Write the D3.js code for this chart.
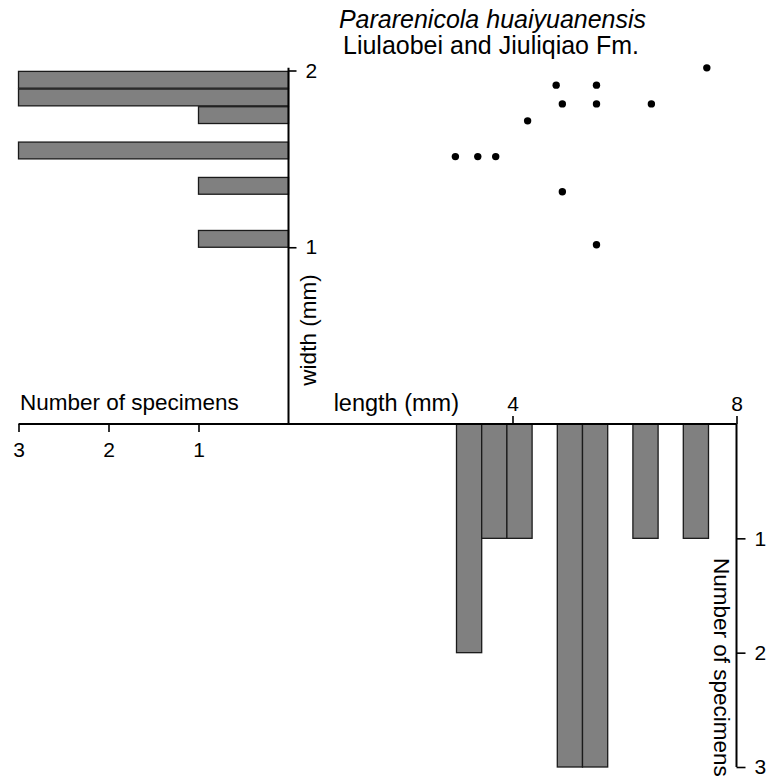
<!DOCTYPE html>
<html>
<head>
<meta charset="utf-8">
<script src="https://cdn.jsdelivr.net/npm/d3@7"></script>
<style>
  html, body { margin: 0; padding: 0; background: #fff; }
  svg { display: block; font-family: "Liberation Sans", Arial, Helvetica, sans-serif; }
</style>
</head>
<body>
<div id="chart"></div>
<script>
// specimens: length and width (mm)
const lengthMm = [7.47, 4.78, 5.50, 4.89, 5.50, 6.48, 4.27, 2.98, 3.38, 3.70, 4.89, 5.50];
const widthMm = [2.015, 1.917, 1.917, 1.811, 1.811, 1.811, 1.715, 1.513, 1.513, 1.513, 1.314, 1.014];

// width histogram (lower bin edge, count)
const widthBinLo = [1.0, 1.3, 1.5, 1.7, 1.8, 1.9];
const widthCounts = [1, 1, 3, 1, 3, 3];
const widthBinSize = 0.095;

// length histogram (lower bin edge, count)
const lengthBinLo = [3.0, 3.45, 3.9, 4.8, 5.25, 6.15, 7.05];
const lengthCounts = [2, 1, 1, 3, 3, 1, 1];
const lengthBinSize = 0.45;

// tick labels
const lengthTicks = [4, 8];
const widthTicks = [1, 2];
const countTicks = [1, 2, 3];

const W = 767, H = 778;
const x0 = 288.5, y0 = 424;

const svg = d3.select('#chart').append('svg')
  .attr('width', W)
  .attr('height', H);

const xLen = d3.scaleLinear().domain([0, 8]).range([x0, 736.5]);
const yWid = d3.scaleLinear().domain([0, 2]).range([y0, 70.5]);
const xCnt = d3.scaleLinear().domain([0, 3]).range([x0, 18.5]);
const yCnt = d3.scaleLinear().domain([0, 3]).range([y0, 767]);

const barFill = '#808080';
const barStroke = '#1a1a1a';

// left histogram of widths
svg.append('g').selectAll('rect')
  .data(widthBinLo)
  .join('rect')
  .attr('x', (d, i) => xCnt(widthCounts[i]))
  .attr('y', d => yWid(d + widthBinSize))
  .attr('width', (d, i) => xCnt(0) - xCnt(widthCounts[i]))
  .attr('height', d => yWid(d) - yWid(d + widthBinSize))
  .attr('fill', barFill)
  .attr('stroke', barStroke)
  .attr('stroke-width', 1.3);

// bottom histogram of lengths
svg.append('g').selectAll('rect')
  .data(lengthBinLo)
  .join('rect')
  .attr('x', d => xLen(d))
  .attr('y', yCnt(0))
  .attr('width', d => xLen(d + lengthBinSize) - xLen(d))
  .attr('height', (d, i) => yCnt(lengthCounts[i]) - yCnt(0))
  .attr('fill', barFill)
  .attr('stroke', barStroke)
  .attr('stroke-width', 1.3);

// main axis lines
const axisLines = svg.append('g').attr('stroke', '#000').attr('stroke-width', 2);
axisLines.append('line')
  .attr('x1', xCnt(3)).attr('x2', xLen(8))
  .attr('y1', y0).attr('y2', y0);
axisLines.append('line')
  .attr('x1', xLen(0)).attr('x2', xLen(0))
  .attr('y1', y0).attr('y2', yWid(2.015));
axisLines.append('line')
  .attr('x1', xLen(8)).attr('x2', xLen(8))
  .attr('y1', yCnt(0)).attr('y2', yCnt(3));

function styleAxis(g) {
  g.select('.domain').remove();
  g.selectAll('.tick line').attr('stroke', '#000').attr('stroke-width', 1.6);
  g.selectAll('.tick text')
    .attr('fill', '#000')
    .style('font-size', '21px')
    .style('font-family', '"Liberation Sans", Arial, Helvetica, sans-serif');
}

svg.append('g')
  .attr('transform', `translate(${x0},0)`)
  .call(d3.axisRight(yWid).tickValues(widthTicks).tickFormat(d3.format('d')).tickSize(8).tickPadding(9))
  .call(styleAxis);

svg.append('g')
  .attr('transform', `translate(0,${y0})`)
  .call(d3.axisTop(xLen).tickValues(lengthTicks).tickFormat(d3.format('d')).tickSize(8).tickPadding(5))
  .call(styleAxis);

svg.append('g')
  .attr('transform', `translate(0,${y0})`)
  .call(d3.axisBottom(xCnt).tickValues(countTicks).tickFormat(d3.format('d')).tickSize(8).tickPadding(10))
  .call(styleAxis);

svg.append('g')
  .attr('transform', `translate(${xLen(8)},0)`)
  .call(d3.axisRight(yCnt).tickValues(countTicks).tickFormat(d3.format('d')).tickSize(9).tickPadding(9))
  .call(styleAxis);

// scatter of specimens
svg.append('g').selectAll('circle')
  .data(lengthMm)
  .join('circle')
  .attr('cx', d => xLen(d))
  .attr('cy', (d, i) => yWid(widthMm[i]))
  .attr('r', 3.7)
  .attr('fill', '#000');

// titles and axis labels
const labelSize = '22.5px';
svg.append('text')
  .attr('x', 492.5).attr('y', 28)
  .attr('text-anchor', 'middle')
  .style('font-size', '25px')
  .style('font-style', 'italic')
  .text('Pararenicola huaiyuanensis');

svg.append('text')
  .attr('x', 491).attr('y', 54)
  .attr('text-anchor', 'middle')
  .style('font-size', '25px')
  .text('Liulaobei and Jiuliqiao Fm.');

svg.append('text')
  .attr('x', 20).attr('y', 410)
  .style('font-size', labelSize)
  .text('Number of specimens');

svg.append('text')
  .attr('x', 459).attr('y', 411)
  .attr('text-anchor', 'end')
  .style('font-size', '23.5px')
  .text('length (mm)');

svg.append('text')
  .attr('transform', 'translate(316,330) rotate(-90)')
  .attr('text-anchor', 'middle')
  .style('font-size', labelSize)
  .text('width (mm)');

svg.append('text')
  .attr('transform', 'translate(714,558) rotate(90)')
  .style('font-size', labelSize)
  .text('Number of specimens');
</script>
</body>
</html>
